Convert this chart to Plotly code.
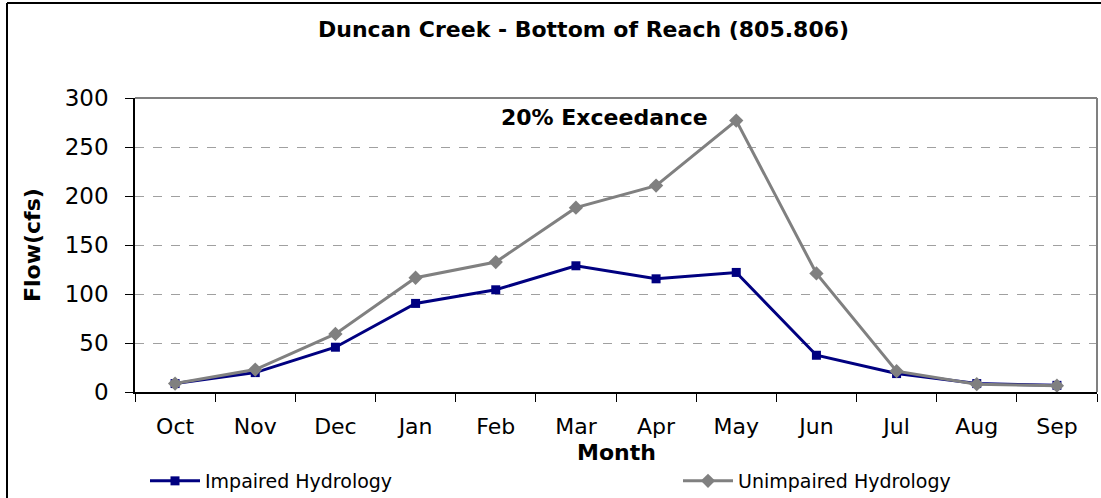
import plotly.graph_objects as go

months = ["Oct", "Nov", "Dec", "Jan", "Feb", "Mar", "Apr", "May", "Jun", "Jul", "Aug", "Sep"]
impaired = [8.6, 19.8, 45.7, 90.4, 104.3, 128.8, 115.5, 122.0, 37.5, 18.8, 8.6, 6.8]
unimpaired = [8.6, 22.9, 59.3, 116.6, 132.6, 188.1, 210.6, 277.0, 121.0, 21.2, 8.0, 6.5]

FONT = "DejaVu Sans"
L, R, T, B = 135, 4, 98, 106
W, H = 1101, 498
PW = W - L - R
PH = H - T - B


def px(xp):
    return (xp - L) / PW


def py(yp):
    return (H - B - yp) / PH


fig = go.Figure()
fig.add_trace(go.Scatter(
    x=months, y=impaired, mode="lines+markers", name="Impaired Hydrology",
    line=dict(color="#000080", width=3),
    marker=dict(symbol="square", size=9, color="#000080"),
    legend="legend",
))
fig.add_trace(go.Scatter(
    x=months, y=unimpaired, mode="lines+markers", name="Unimpaired Hydrology",
    line=dict(color="#808080", width=3),
    marker=dict(symbol="diamond", size=11, color="#808080"),
    legend="legend2",
))

fig.update_layout(
    width=W, height=H,
    margin=dict(l=L, r=R, t=T, b=B, autoexpand=False),
    paper_bgcolor="white", plot_bgcolor="white",
    font=dict(family=FONT, color="black"),
    showlegend=True,
    legend=dict(xref="container", yref="container",
                x=145 / W, y=1 - 481 / H, xanchor="left", yanchor="middle", itemwidth=50,
                font=dict(size=19, family=FONT), bgcolor="rgba(0,0,0,0)"),
    legend2=dict(xref="container", yref="container",
                 x=678 / W, y=1 - 481 / H, xanchor="left", yanchor="middle", itemwidth=50,
                 font=dict(size=19, family=FONT), bgcolor="rgba(0,0,0,0)"),
    xaxis=dict(
        type="category", range=[-0.5, 11.5], tickson="boundaries",
        ticks="outside", ticklen=8, tickcolor="black", tickwidth=1,
        showline=True, linecolor="black", linewidth=1.5,
        showgrid=False, zeroline=False, automargin=False,
        tickfont=dict(size=22, family=FONT, color="black"),
        ticklabelstandoff=14,
    ),
    yaxis=dict(
        range=[0, 300], dtick=50, tick0=0,
        ticks="outside", ticklen=8, tickcolor="black", tickwidth=1,
        showline=True, linecolor="black", linewidth=1.5,
        showgrid=True, gridcolor="#a0a0a0", griddash="dash", gridwidth=1,
        zeroline=False, automargin=False,
        tickfont=dict(size=23, family=FONT, color="black"),
        ticklabelstandoff=12,
    ),
    shapes=[
        dict(type="line", xref="paper", yref="paper", x0=0, x1=1, y0=1, y1=1,
             line=dict(color="#808080", width=2)),
        dict(type="line", xref="paper", yref="paper", x0=1, x1=1, y0=0, y1=1,
             line=dict(color="#808080", width=2)),
        dict(type="line", xref="paper", yref="paper", x0=px(7), x1=px(7),
             y0=py(3), y1=py(510), line=dict(color="black", width=2)),
        dict(type="line", xref="paper", yref="paper", x0=px(7), x1=px(1110),
             y0=py(3), y1=py(3), line=dict(color="black", width=2)),
    ],
    annotations=[
        dict(text="<b>Duncan Creek - Bottom of Reach (805.806)</b>", xref="paper", yref="paper",
             x=px(583), y=py(30), xanchor="center", yanchor="middle", showarrow=False,
             font=dict(size=22, family=FONT, color="black")),
        dict(text="<b>20% Exceedance</b>", xref="paper", yref="paper",
             x=px(604), y=py(118), xanchor="center", yanchor="middle", showarrow=False,
             font=dict(size=22, family=FONT, color="black")),
        dict(text="<b>Month</b>", xref="paper", yref="paper",
             x=px(616), y=py(452), xanchor="center", yanchor="middle", showarrow=False,
             font=dict(size=22, family=FONT, color="black")),
        dict(text="<b>Flow(cfs)</b>", xref="paper", yref="paper",
             x=px(32), y=py(245), xanchor="center", yanchor="middle", showarrow=False,
             textangle=-90, font=dict(size=22, family=FONT, color="black")),
    ],
)

fig.write_html("out.html", config={"displayModeBar": False},
               post_script="document.body.style.margin='0';")
